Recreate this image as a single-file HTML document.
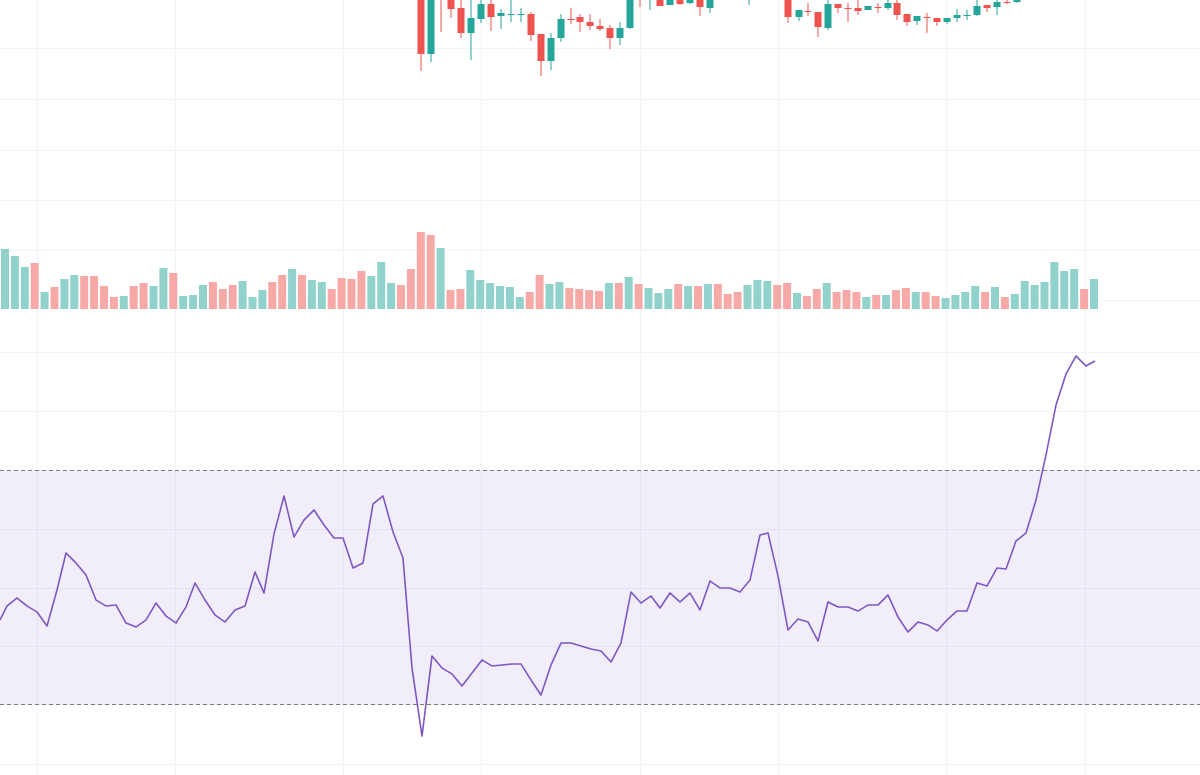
<!DOCTYPE html>
<html><head><meta charset="utf-8"><style>
html,body{margin:0;padding:0;background:#fff;width:1200px;height:775px;overflow:hidden;font-family:"Liberation Sans",sans-serif}
</style></head><body>
<svg id="s" width="1200" height="775" xmlns="http://www.w3.org/2000/svg"></svg>
<script>
const s=document.getElementById('s');let h='';
const G='#26a69a',R='#ef5350';
[37,175,343,481,640,778,946,1085].forEach(x=>h+=`<line x1="${x+.5}" y1="0" x2="${x+.5}" y2="775" stroke="#f0f3fa"/>`);
[48,99,150,200,250,300,352,411,529,588,646,764].forEach(y=>h+=`<line x1="0" y1="${y+.5}" x2="1200" y2="${y+.5}" stroke="#f0f3fa"/>`);
h+=`<rect x="0" y="470" width="1200" height="235" fill="rgba(126,87,194,0.1)"/>`;
h+=`<line x1="0" y1="470.5" x2="1200" y2="470.5" stroke="#787b86" stroke-dasharray="4,3"/>`;
h+=`<line x1="0" y1="704.5" x2="1200" y2="704.5" stroke="#787b86" stroke-dasharray="4,3"/>`;
// volume
const vol="249g256g267g263r292g287r279g275g276r276r286r297r296g286r283r286g268g273r296g295g285g282r289r285r281g297g290g282r275r269g275r280g282g289r278r279r271r276g262g283g285r269r232r235r248g290r289r270g280g283g286g287g297g292r275r284g282g288r289r290r291r283g283r277g284r288g293g289g284r286g"
+"286r284g284r294r292r285g280g281g285r283r293g296r289r283g292r290r292r297g295r295g290r288r292g292r296r298g295g292g286g292r287g297r294g281g285g282g262g271g269g289r279g";
const vs=vol.match(/\d+[rg]/g);
vs.forEach((v,i)=>{const y=parseInt(v),c=v.slice(-1)=='g'?'#92d2cc':'#f7a9a7';const x=5+9.9*i;h+=`<rect x="${(x-4).toFixed(1)}" y="${y}" width="8" height="${309-y}" fill="${c}"/>`;});
// candles [x,color,bodyTop,bodyBot,wickTop,wickBot]
const C=[[421,R,-5,54,-5,71],[431,G,-5,54,-5,62],[441,R,-5,-1,-5,32],[451,R,-5,9,-5,18],[461,R,8,33,0,38],[471,G,18,33,0,60],[481,G,4,19,0,23],[491,R,4,17,0,31],[501,G,13,16,9,29],[511,G,14,15,0,22],[521,G,14,15,8,22],[531,R,14,35,12,41],[541,R,34,61,34,76],[551,G,38,61,33,70],[561,G,19,38,14,42],[571,R,19,20,8,24],[580,R,17,22,14,32],[590,R,22,26,14,30],[600,R,26,29,19,31],[610,R,28,38,25,49],[620,G,28,38,22,45],[630,G,-5,28,-5,29],[640,R,-5,-1,-5,7],[650,G,-5,-1,-5,10],[660,R,-5,6,-5,6],[670,G,-5,5,-5,5],[680,R,-5,4,-5,5],[690,G,-5,3,-5,4],[700,R,-5,7,-5,16],[710,G,-5,8,-5,13],[749,G,-5,-1,-5,5],[788,R,-5,17,-5,23],[799,G,10,17,10,21],[808,R,11,12,3,16],[818,R,12,27,12,37],[828,G,4,28,0,30],[838,R,4,8,4,13],[848,R,8,9,3,22],[858,R,8,11,0,15],[868,G,6,10,6,10],[878,R,7,8,3,13],[888,G,3,8,0,10],[897,R,3,15,0,20],[907,R,14,22,14,26],[917,G,16,21,16,25],[927,R,17,18,13,33],[937,R,18,22,18,26],[947,G,18,22,18,24],[957,G,15,18,9,22],[967,G,15,16,10,20],[977,G,6,15,0,16],[987,R,5,8,5,12],[997,G,2,7,0,15],[1007,R,2,3,0,4],[1017,G,0,2,0,3]];
C.forEach(([x,c,bt,bb,wt,wb])=>{h+=`<line x1="${x}" y1="${wt}" x2="${x}" y2="${wb}" stroke="${c}" stroke-width="1"/>`;if(bb>bt)h+=`<rect x="${x-3.5}" y="${bt}" width="7" height="${Math.max(1,bb-bt)}" fill="${c}"/>`;});
const P="0,620 7,606 17,598 27,606 37,612 47,626 57,590 66,553 76,563 86,575 96,600 106,606 116,605 126,623 136,627 146,620 156,603 166,616 176,623 186,607 195,583 205,600 215,615 225,622 235,610 245,606 255,572 264,593 274,534 284,496 294,537 304,520 314,510 324,525 334,538 343,538 353,568 363,563 373,504 383,496 393,532 403,558 412,668 422,736 432,656 442,668 452,674 462,686 472,673 482,660 492,666 502,665 512,664 521,664 531,680 541,695 551,665 561,643 571,643 581,646 591,649 601,651 611,662 621,643 631,592 641,603 651,596 660,608 670,593 680,602 690,593 700,610 710,581 720,588 730,588 740,592 750,580 760,535 768,533 778,576 788,630 798,619 808,622 818,641 828,602 838,607 848,607 858,611 868,605 878,605 888,595 898,617 908,632 918,622 928,625 937,631 947,620 957,611 967,611 977,583 987,586 997,568 1006,569 1016,541 1026,533 1036,500 1046,455 1056,405 1066,374 1076,356 1086,366 1095,361";
h+=`<polyline points="${P}" fill="none" stroke="#7e57c2" stroke-width="1.6" stroke-linejoin="round"/>`;
s.innerHTML=h;
</script>
</body></html>
